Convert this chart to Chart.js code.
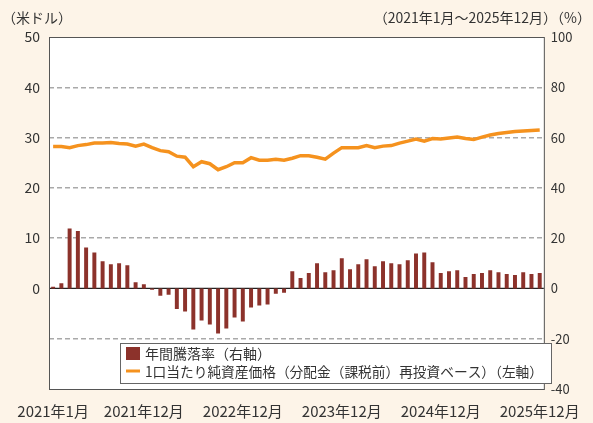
<!DOCTYPE html>
<html>
<head>
<meta charset="utf-8">
<script src="https://cdn.jsdelivr.net/npm/chart.js@4"></script>
<style>
    html, body { margin: 0; padding: 0; background: #fdf4e8; }
    #wrap { width: 593px; height: 423px; }
</style>
</head>
<body>
<div id="wrap"><canvas id="navChart" width="593" height="423"></canvas></div>
<script>
const FONT = '"Noto Sans CJK JP", "Noto Sans", sans-serif';

// 2021年1月 ~ 2025年12月 (monthly)
const months = [];
for (let y = 2021; y <= 2025; y++) {
    for (let m = 1; m <= 12; m++) months.push(y + '年' + m + '月');
}
const xTickLabels = ['2021年1月', '2021年12月', '2022年12月', '2023年12月', '2024年12月', '2025年12月'];

// 年間騰落率 (%), right axis
const annualReturn = [
    0.7, 2.1, 23.8, 22.8, 16.3, 14.3, 10.8, 9.6, 10.0, 9.2, 2.5, 1.7,
    -0.5, -2.9, -2.5, -8.2, -9.2, -16.3, -12.8, -14.3, -17.9, -15.9, -11.6, -13.2,
    -7.6, -6.8, -6.4, -2.1, -1.7, 6.8, 4.1, 6.1, 10.0, 6.4, 7.2, 12.0,
    7.6, 9.6, 11.6, 8.8, 10.8, 10.0, 9.6, 11.2, 13.9, 14.3, 10.4, 6.1,
    6.8, 7.2, 4.5, 5.7, 6.1, 7.2, 6.4, 5.7, 5.3, 6.4, 5.7, 6.1
];

// 1口当たり純資産価格 (米ドル), left axis
const navPerUnit = [
    28.2, 28.2, 28.0, 28.4, 28.6, 28.9, 28.9, 29.0, 28.8, 28.7, 28.3, 28.7,
    28.0, 27.4, 27.2, 26.3, 26.1, 24.2, 25.2, 24.8, 23.6, 24.2, 25.0, 25.0,
    26.0, 25.5, 25.5, 25.7, 25.5, 25.9, 26.4, 26.4, 26.1, 25.7, 26.9, 28.0,
    28.0, 28.0, 28.4, 28.0, 28.3, 28.4, 28.9, 29.3, 29.7, 29.3, 29.8, 29.7,
    29.9, 30.1, 29.8, 29.6, 30.1, 30.5, 30.8, 31.0, 31.2, 31.3, 31.4, 31.5
];

const leftTitle = '（米ドル）';
const rightTitle = '（2021年1月～2025年12月）（%）';
const legendBar = '年間騰落率（右軸）';
const legendLine = '1口当たり純資産価格（分配金（課税前）再投資ベース）（左軸）';

const barColor = '#8c322b';
const lineColor = '#f5921e';
const textColor = '#333333';

// frame, zero line, titles and legend box
const decorPlugin = {
    id: 'decor',
    beforeDraw(chart) {
        const { ctx, chartArea: a } = chart;
        ctx.save();
        ctx.fillStyle = '#ffffff';
        ctx.fillRect(a.left, a.top, a.right - a.left, a.bottom - a.top);
        ctx.restore();
    },
    beforeDatasetsDraw(chart) {
        const { ctx, chartArea: a } = chart;
        const y0 = chart.scales.y.getPixelForValue(0);
        ctx.save();
        ctx.strokeStyle = '#222';
        ctx.lineWidth = 1.2;
        ctx.beginPath();
        ctx.moveTo(a.left, y0);
        ctx.lineTo(a.right, y0);
        ctx.stroke();
        ctx.restore();
    },
    afterDraw(chart) {
        const { ctx, chartArea: a } = chart;
        ctx.save();
        ctx.strokeStyle = '#555';
        ctx.lineWidth = 1;
        ctx.strokeRect(a.left + 0.5, a.top + 0.5, a.right - a.left, a.bottom - a.top);

        ctx.fillStyle = textColor;
        ctx.font = '14px ' + FONT;
        ctx.textBaseline = 'middle';
        ctx.textAlign = 'left';
        ctx.fillText(leftTitle, 2, 18);
        ctx.textAlign = 'right';
        ctx.fillText(rightTitle, 591, 18);

        // legend
        const bx = 120, by = 343, bw = 431, bh = 40;
        ctx.fillStyle = '#ffffff';
        ctx.fillRect(bx, by, bw, bh);
        ctx.strokeStyle = '#666';
        ctx.strokeRect(bx + 0.5, by + 0.5, bw, bh);
        ctx.fillStyle = barColor;
        ctx.fillRect(126, 347, 14, 13);
        ctx.strokeStyle = lineColor;
        ctx.lineWidth = 3;
        ctx.beginPath();
        ctx.moveTo(126, 371);
        ctx.lineTo(140, 371);
        ctx.stroke();
        ctx.fillStyle = textColor;
        ctx.textAlign = 'left';
        ctx.font = '14px ' + FONT;
        ctx.fillText(legendBar, 145, 354, 128);
        ctx.fillText(legendLine, 145, 372, 398);
        ctx.restore();
    }
};

new Chart(document.getElementById('navChart'), {
    data: {
        labels: months,
        datasets: [
            {
                type: 'line',
                label: legendLine,
                data: navPerUnit,
                yAxisID: 'y',
                borderColor: lineColor,
                borderWidth: 3.5,
                pointRadius: 0,
                tension: 0,
                order: 0
            },
            {
                type: 'bar',
                label: legendBar,
                data: annualReturn,
                yAxisID: 'y1',
                backgroundColor: barColor,
                categoryPercentage: 1,
                barPercentage: 0.48,
                order: 1
            }
        ]
    },
    options: {
        responsive: false,
        animation: false,
        devicePixelRatio: 1,
        layout: { padding: { top: 37, left: 0, right: 0, bottom: 0 } },
        plugins: {
            legend: { display: false },
            tooltip: { enabled: false }
        },
        scales: {
            x: {
                type: 'category',
                offset: true,
                grid: { display: false, drawTicks: false },
                border: { display: false },
                afterFit: (scale) => { scale.height = 34; },
                ticks: {
                    autoSkip: false,
                    maxRotation: 0,
                    padding: 13,
                    color: textColor,
                    font: { family: FONT, size: 15 },
                    callback: function(value, index) {
                        const lab = months[index];
                        return xTickLabels.includes(lab) ? lab : null;
                    }
                }
            },
            y: {
                position: 'left',
                min: -20,
                max: 50,
                afterFit: (scale) => { scale.width = 49; },
                ticks: {
                    stepSize: 10,
                    padding: 9,
                    color: textColor,
                    font: { family: FONT, size: 14 },
                    callback: (v) => (v < 0 ? '' : v)
                },
                border: { display: false, dash: [5, 3] },
                grid: {
                    drawTicks: false,
                    lineWidth: 1.4,
                    color: (c) => {
                        const v = c.tick && c.tick.value;
                        if (v === 0 || v === -20 || v === 50) return 'rgba(0,0,0,0)';
                        return '#a9a9a9';
                    }
                }
            },
            y1: {
                position: 'right',
                min: -40,
                max: 100,
                afterFit: (scale) => { scale.width = 37; },
                ticks: {
                    stepSize: 20,
                    padding: 7,
                    color: textColor,
                    font: { family: FONT, size: 13 }
                },
                border: { display: false },
                grid: { display: false, drawTicks: false }
            }
        }
    },
    plugins: [decorPlugin]
});
</script>
</body>
</html>
